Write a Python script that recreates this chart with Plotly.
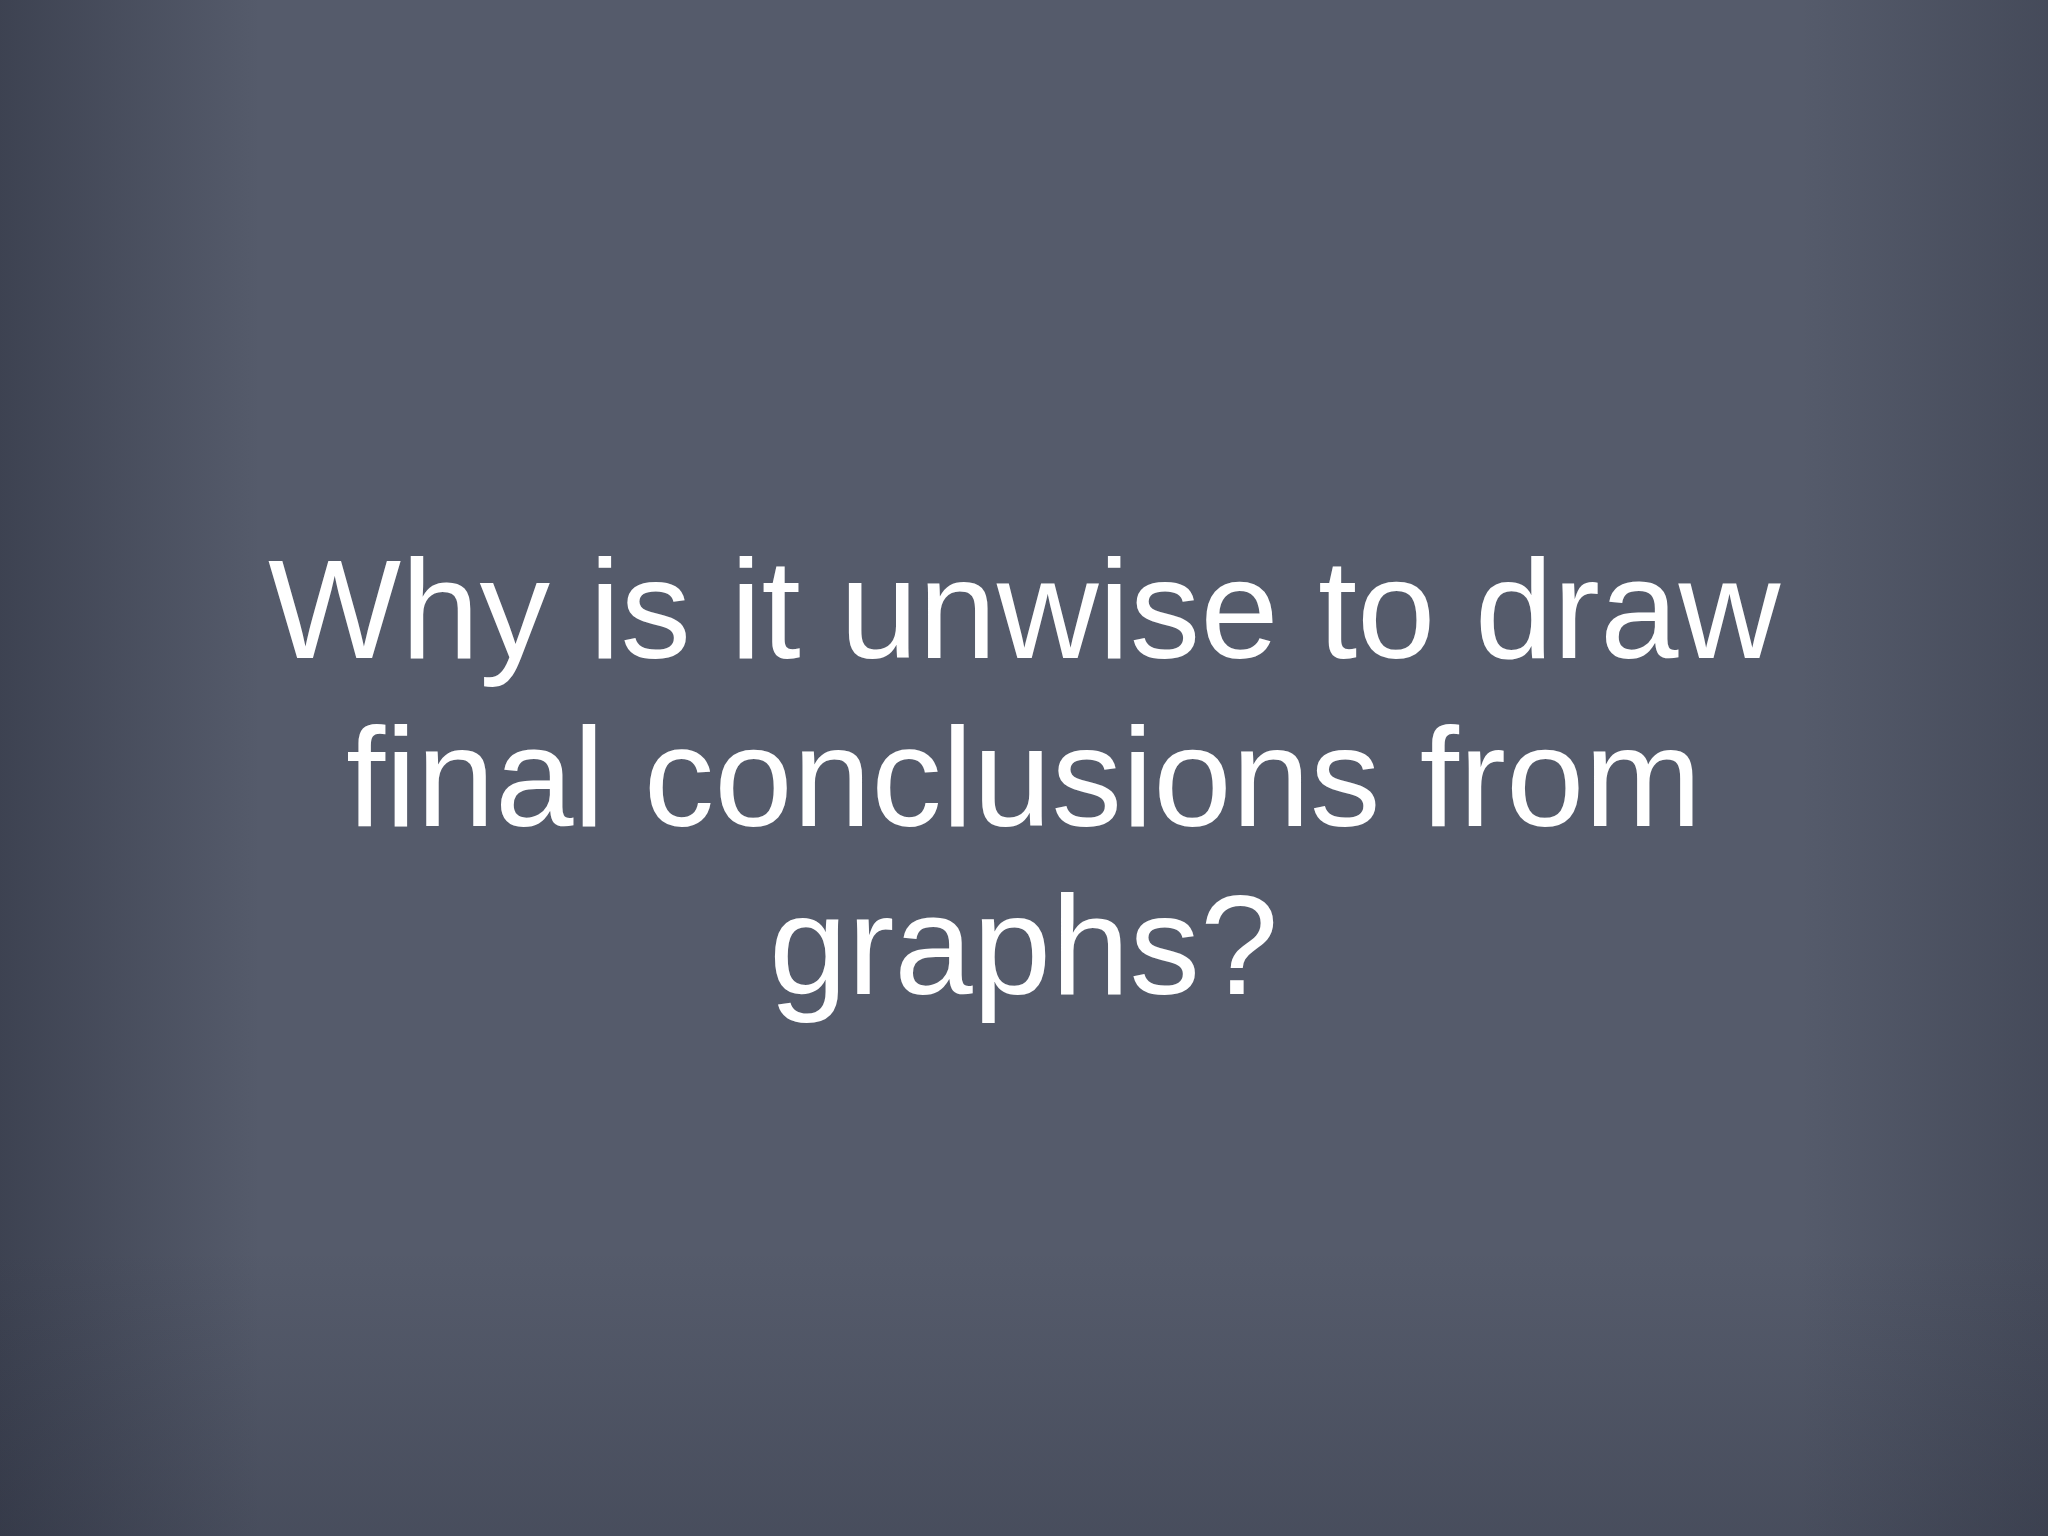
import plotly.graph_objects as go

# Slide content
lines = ["Why is it unwise to draw", "final conclusions from", "graphs?"]
line_baselines = [656, 824, 992]  # approximate baseline position of each text line (px)

W, H = 2048, 1536
FS = 141

fig = go.Figure()

# subtle chalkboard shading (soft gradients at edges)
def grad_rect(x0, x1, y0, y1, kind, c0, c1):
    fig.add_trace(go.Scatter(
        x=[x0, x1, x1, x0, x0], y=[y0, y0, y1, y1, y0], mode="lines",
        line=dict(width=0), fill="toself", hoverinfo="skip", showlegend=False,
        fillgradient=dict(type=kind, colorscale=[[0, c0], [1, c1]])))

grad_rect(0, 260, 0, H, "horizontal", "rgba(32,36,50,0.45)", "rgba(32,36,50,0)")
grad_rect(1800, W, 0, H, "horizontal", "rgba(32,36,50,0)", "rgba(32,36,50,0.30)")
grad_rect(0, W, 1250, H, "vertical", "rgba(32,36,50,0.25)", "rgba(32,36,50,0)")

for txt, base in zip(lines, line_baselines):
    fig.add_annotation(x=W / 2, y=base - 0.33 * FS, xref="x", yref="y", text=txt,
                       showarrow=False, xanchor="center", yanchor="middle",
                       font=dict(family="Liberation Sans, Arial, sans-serif", size=FS, color="#ffffff"))

fig.update_xaxes(range=[0, W], visible=False, fixedrange=True)
fig.update_yaxes(range=[H, 0], visible=False, fixedrange=True)
fig.update_layout(width=W, height=H, margin=dict(l=0, r=0, t=0, b=0),
                  paper_bgcolor="#555b6b", plot_bgcolor="rgba(0,0,0,0)", showlegend=False)

fig.write_html("out.html", config={"displayModeBar": False},
               post_script="document.body.style.margin='0';document.body.style.overflow='hidden';document.body.style.background='#555b6b';")
